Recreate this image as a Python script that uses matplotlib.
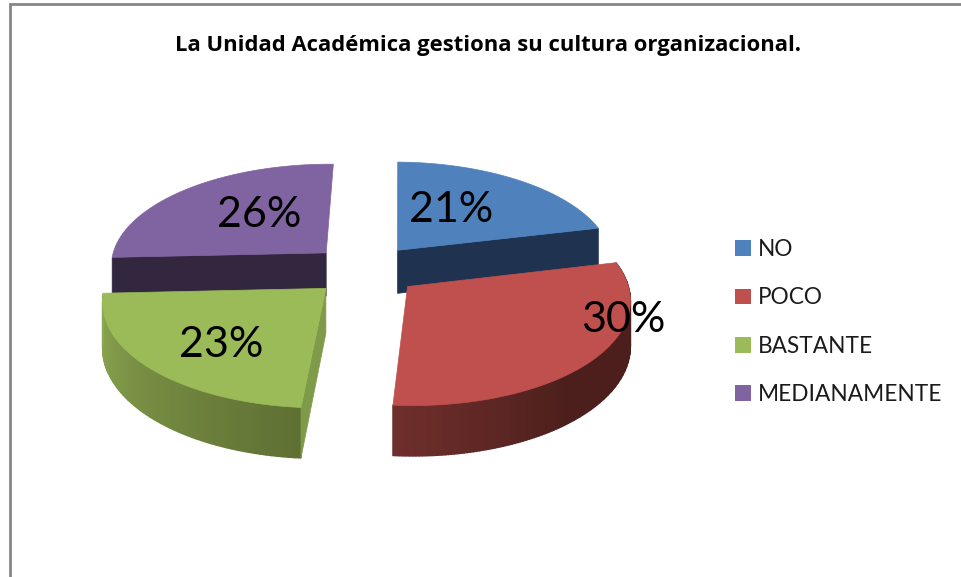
import matplotlib
matplotlib.use('Agg')
import matplotlib.pyplot as plt
from matplotlib.patches import Patch
import numpy as np

title = 'La Unidad Académica gestiona su cultura organizacional.'
categories = ['NO', 'POCO', 'BASTANTE', 'MEDIANAMENTE']
values = [21, 30, 23, 26]
percent_labels = ['21%', '30%', '23%', '26%']
top_colors = ['#4F81BD', '#C0504D', '#9BBB59', '#8064A2']

plt.rcParams['font.family'] = ['Lato', 'DejaVu Sans']

# camera for the fake 3d pie (pixels)
cx, cy = 365, 270
fx, fy = 217, 102
persp = 0.11
depth = 44
explode = 0.25
start_angle = 1


def project(u, v, low=False):
    w = 1 + persp * v
    x = cx + fx * u / w
    y = cy - fy * v / w
    if low:
        y = y + depth / w
    return x, y


def rim(a0, a1, mid, n=80):
    t = np.radians(np.linspace(a0, a1, n) + start_angle)
    m = np.radians(mid)
    return np.sin(t) + explode * np.sin(m), np.cos(t) + explode * np.cos(m)


def apex(mid):
    m = np.radians(mid)
    return explode * np.sin(m), explode * np.cos(m)


def cut_face(ax, angle, mid, color, z):
    au, av = apex(mid)
    eu = np.sin(np.radians(angle + start_angle)) + au
    ev = np.cos(np.radians(angle + start_angle)) + av
    x0, y0 = project(au, av)
    x1, y1 = project(eu, ev)
    x2, y2 = project(eu, ev, low=True)
    x3, y3 = project(au, av, low=True)
    ax.fill([x0, x1, x2, x3], [y0, y1, y2, y3], color=color, lw=0.5, zorder=z)


def top_face(ax, a0, a1, mid, color, z):
    u, v = rim(a0, a1, mid)
    au, av = apex(mid)
    x, y = project(np.r_[au, u], np.r_[av, v])
    ax.fill(x, y, color=color, lw=0.5, zorder=z)


def wall(ax, a0, a1, mid, c0, c1, z, n=60):
    c0 = np.array(matplotlib.colors.to_rgb(c0))
    c1 = np.array(matplotlib.colors.to_rgb(c1))
    u, v = rim(a0, a1, mid, n + 1)
    xt, yt = project(u, v)
    xb, yb = project(u, v, low=True)
    for i in range(n):
        c = c0 + (c1 - c0) * i / (n - 1)
        ax.fill([xt[i], xt[i + 1], xb[i + 1], xb[i]],
                [yt[i], yt[i + 1], yb[i + 1], yb[i]],
                color=c, lw=1.0, zorder=z)


fig = plt.figure(figsize=(9.61, 5.77), dpi=100)
ax = fig.add_axes([0, 0, 1, 1])
ax.set_xlim(0, 961)
ax.set_ylim(577, 0)
ax.axis('off')

# outer chart border, only top and left are in the crop
ax.plot([9.5, 9.5, 961], [577, 4, 4], color='#868686', lw=2, solid_joinstyle='miter')

edges = np.cumsum([0] + values) / np.sum(values) * 360
mids = (edges[:-1] + edges[1:]) / 2

cut_face(ax, edges[1], mids[0], '#1F3350', 2)
top_face(ax, edges[0], edges[1], mids[0], top_colors[0], 3)

cut_face(ax, edges[3], mids[3], '#33273F', 4)
top_face(ax, edges[3], edges[4], mids[3], top_colors[3], 5)

wall(ax, edges[2], edges[3], mids[2], '#5F7033', '#8CA851', 6)
cut_face(ax, edges[2], mids[2], '#7F9A48', 6)
top_face(ax, edges[2], edges[3], mids[2], top_colors[2], 7)

wall(ax, edges[1], edges[2] - 45, mids[1], '#4C1F1C', '#4C1F1C', 8, n=30)
wall(ax, edges[2] - 45, edges[2], mids[1], '#4C1F1C', '#6F2F2C', 8)
top_face(ax, edges[1], edges[2], mids[1], top_colors[1], 9)

# percent labels sit where the original chart placed them
label_xy = [(451, 210), (623, 320), (221, 345), (259, 215)]
for txt, (lx, ly) in zip(percent_labels, label_xy):
    ax.text(lx, ly, txt, fontsize=31, color='black', ha='center', va='center', zorder=20)

ax.text(488, 46, title, fontsize=15.85, fontweight='bold', color='black',
        family=['Open Sans', 'DejaVu Sans'], ha='center', va='center', zorder=20)

handles = [Patch(facecolor=c, edgecolor='none') for c in top_colors]
ax.legend(handles, categories, loc='center left', bbox_to_anchor=(735 / 961, 1 - 322 / 577),
          frameon=False, fontsize=16.3, labelspacing=1.2, handlelength=0.7, handleheight=0.7,
          handletextpad=0.33, borderaxespad=0, borderpad=0, labelcolor='#1a1a1a')

fig.savefig('out.png', dpi=100)
